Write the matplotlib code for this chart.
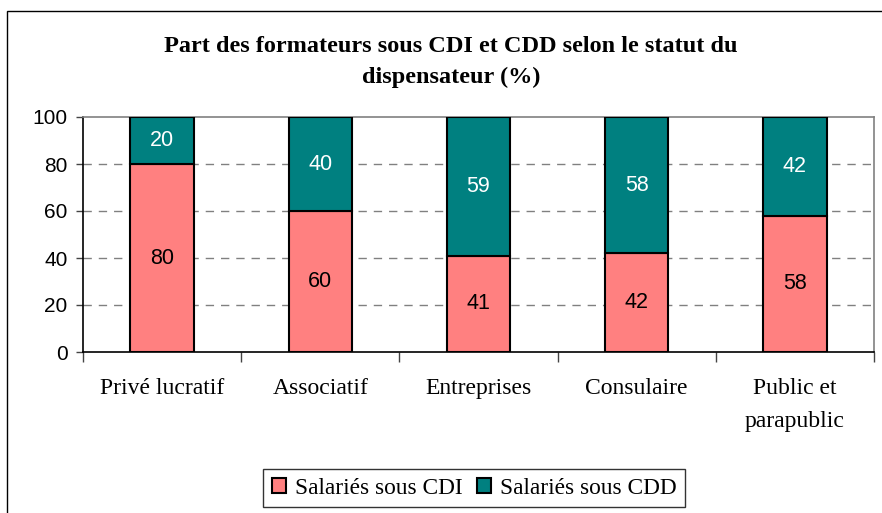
import matplotlib
matplotlib.use("Agg")
import matplotlib.pyplot as plt
from matplotlib.patches import Rectangle
import numpy as np

categories = ["Privé lucratif", "Associatif", "Entreprises", "Consulaire", "Public et\nparapublic"]
cdi = [80, 60, 41, 42, 58]
cdd = [20, 40, 59, 58, 42]
series_names = ["Salariés sous CDI", "Salariés sous CDD"]
yticks = [0, 20, 40, 60, 80, 100]
title = "Part des formateurs sous CDI et CDD selon le statut du\ndispensateur (%)"

serif = ["Liberation Serif", "DejaVu Serif"]
sans = ["Liberation Sans", "DejaVu Sans"]
c_cdi = "#FF8080"
c_cdd = "#008080"

fig = plt.figure(figsize=(8.82, 5.13), dpi=100)
fig.patch.set_facecolor("white")
# outer chart border
fig.add_artist(Rectangle((7/882, -0.1), 1.2, 1 - 11/513 + 0.1, transform=fig.transFigure,
                         fill=False, edgecolor="#000000", linewidth=1.0))

ax = fig.add_axes([83/882, 1 - 352/513, (874 - 83)/882, (352 - 117)/513])
x = np.arange(len(categories))
w = 0.40
b1 = ax.bar(x, cdi, w, color=c_cdi, edgecolor="black", linewidth=1.5, label=series_names[0], zorder=3)
b2 = ax.bar(x, cdd, w, bottom=cdi, color=c_cdd, edgecolor="black", linewidth=1.5, label=series_names[1], zorder=3)

for i in range(len(categories)):
    ax.text(x[i], cdi[i] / 2, str(cdi[i]), ha="center", va="center", fontsize=15.5,
            family=sans, color="black", zorder=4)
    ax.text(x[i], cdi[i] + cdd[i] / 2, str(cdd[i]), ha="center", va="center", fontsize=15.5,
            family=sans, color="white", zorder=4)

ax.set_xlim(-0.5, len(categories) - 0.5)
ax.set_ylim(0, 100)
ax.set_yticks(yticks)
ax.set_yticklabels([str(v) for v in yticks], family=sans, fontsize=15)
for v in yticks[1:-1]:
    ax.axhline(v, color="#808080", linewidth=1.0, linestyle=(0, (6, 5)), zorder=1)

ax.set_xticks(np.arange(-0.5, len(categories), 1.0))
ax.set_xticklabels([])
ax.set_xticks(x, minor=True)
ax.set_xticklabels(categories, minor=True, family=serif, fontsize=17, linespacing=1.75)
ax.tick_params(axis="x", which="major", direction="out", length=7, width=1, color="#444444")
ax.tick_params(axis="x", which="minor", length=0, pad=19)
ax.tick_params(axis="y", direction="out", length=5, width=1, pad=6, color="#444444")

for s in ["top", "right"]:
    ax.spines[s].set_color("#808080")
    ax.spines[s].set_linewidth(1.2)
for s in ["left", "bottom"]:
    ax.spines[s].set_color("#000000")
    ax.spines[s].set_linewidth(1.2)

fig.text(451/882, 1 - 62/513, title, ha="center", va="center", family=serif,
         fontweight="bold", fontsize=17.5, linespacing=1.6)

leg = fig.legend(handles=[b1, b2], labels=series_names, loc="center",
                 bbox_to_anchor=(474/882, 1 - 488/513), ncol=2, frameon=True,
                 fancybox=False, prop={"family": serif, "size": 16.8},
                 handlelength=0.6, handleheight=0.6, handletextpad=0.4, columnspacing=0.6,
                 borderpad=0.35, edgecolor="#000000")
leg.get_frame().set_linewidth(1.0)

fig.savefig("out.png", dpi=100, facecolor="white")
